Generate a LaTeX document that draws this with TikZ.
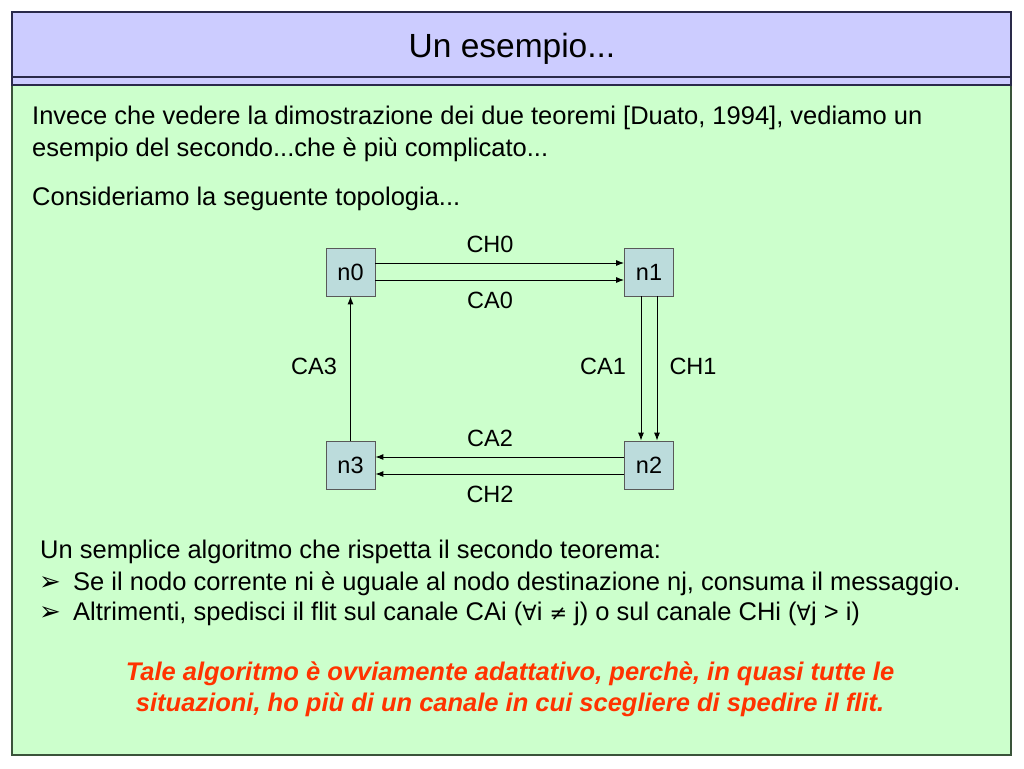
\documentclass[tikz,border=0pt]{standalone}
\usepackage{fontspec}
\setmainfont{Liberation Sans}
\newfontfamily\dejavu{DejaVu Sans}
\usetikzlibrary{arrows.meta}
\definecolor{lav}{HTML}{CCCCFF}
\definecolor{mint}{HTML}{CCFFCC}
\definecolor{nodefill}{HTML}{BCDCDC}
\definecolor{redtxt}{HTML}{FF3300}
\definecolor{greenborder}{HTML}{3A543A}
\definecolor{navy}{HTML}{2A2A4A}
\newcommand{\symb}[1]{{\dejavu\fontsize{21}{24}\selectfont #1}}
\tikzset{
  nbox/.style={draw=black!65, line width=0.8pt, fill=nodefill, minimum width=49pt, minimum height=48pt, inner sep=0pt, font=\fontsize{23.5}{26}\selectfont},
  lbl/.style={inner sep=0pt, font=\fontsize{23.5}{26}\selectfont},
  body/.style={anchor=base west, inner sep=0pt, font=\fontsize{25.5}{29}\selectfont},
  bullet/.style={anchor=base west, inner sep=0pt, font=\dejavu\fontsize{26}{28}\selectfont},
  redline/.style={anchor=base, inner sep=0pt, text=redtxt, font=\fontsize{25.5}{29}\selectfont\bfseries\itshape},
  arr/.style={-{Latex[length=8pt,width=6pt]}, line width=0.9pt, black}
}
\begin{document}
\begin{tikzpicture}[x=1pt,y=-1pt]
\useasboundingbox (0,0) rectangle (1024,768);
\fill[white] (0,0) rectangle (1024,768);
% panels
\draw[greenborder, line width=2pt, fill=mint] (12,85) rectangle (1011,755);
\draw[navy, line width=1.2pt, fill=lav] (12,12) rectangle (1011,85);
\draw[navy, line width=1.2pt] (12,77) -- (1011,77);
\node[inner sep=0pt, anchor=base, font=\fontsize{33.5}{36}\selectfont] (title) at (512,57) {Un esempio...};
% body text
\node[body] (t1) at (32,124) {Invece che vedere la dimostrazione dei due teoremi [Duato, 1994], vediamo un};
\node[body] (t2) at (32,156) {esempio del secondo...che è più complicato...};
\node[body] (t3) at (32,205) {Consideriamo la seguente topologia...};
% nodes
\node[nbox] (n0) at (350.5,272) {n0};
\node[nbox] (n1) at (649,272) {n1};
\node[nbox] (n3) at (350.5,465) {n3};
\node[nbox] (n2) at (649,465) {n2};
% helper coordinates
\coordinate (h1) at (0,263);
\coordinate (h2) at (0,280);
\coordinate (h3) at (0,457);
\coordinate (h4) at (0,474);
\coordinate (v1) at (641,0);
\coordinate (v2) at (657,0);
% connectors
\draw[arr] (n0.east |- h1) -- (n1.west |- h1);
\draw[arr] (n0.east |- h2) -- (n1.west |- h2);
\draw[arr] (v1 |- n1.south) -- (v1 |- n2.north);
\draw[arr] (v2 |- n1.south) -- (v2 |- n2.north);
\draw[arr] (n2.west |- h3) -- (n3.east |- h3);
\draw[arr] (n2.west |- h4) -- (n3.east |- h4);
\draw[arr] (n3.north) -- (n0.south);
% labels
\node[lbl] (lch0) at (490,244) {CH0};
\node[lbl] (lca0) at (490,300) {CA0};
\node[lbl] (lca3) at (314,366) {CA3};
\node[lbl] (lca1) at (603,366) {CA1};
\node[lbl] (lch1) at (693,366) {CH1};
\node[lbl] (lca2) at (490,438) {CA2};
\node[lbl] (lch2) at (490,494) {CH2};
% lower text
\node[body] (u1) at (40,558) {Un semplice algoritmo che rispetta il secondo teorema:};
\node[bullet] (b1) at (39,590) {➢};
\node[body] (u2) at (73,590) {Se il nodo corrente ni è uguale al nodo destinazione nj, consuma il messaggio.};
\node[bullet] (b2) at (39,620) {➢};
\node[body] (u3) at (73,620) {Altrimenti, spedisci il flit sul canale CAi (\symb{∀}i \symb{≠} j) o sul canale CHi (\symb{∀}j > i)};
\node[redline] (r1) at (510,680) {Tale algoritmo è ovviamente adattativo, perchè, in quasi tutte le};
\node[redline] (r2) at (510,711) {situazioni, ho più di un canale in cui scegliere di spedire il flit.};
\end{tikzpicture}
\end{document}
